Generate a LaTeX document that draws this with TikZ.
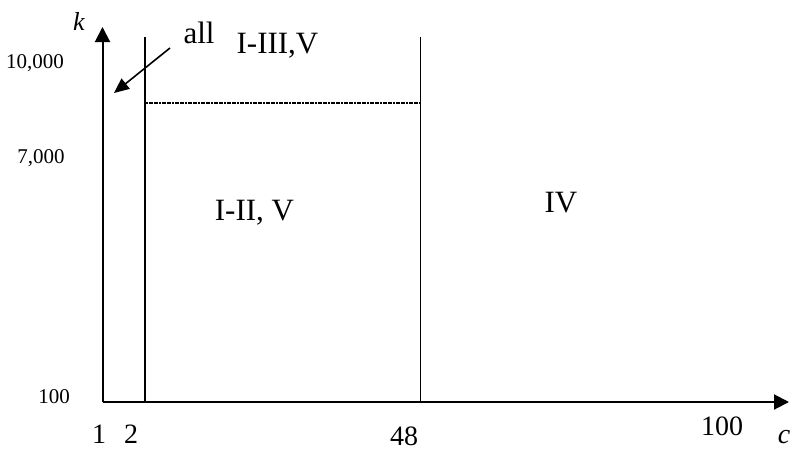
\documentclass[tikz,border=0pt]{standalone}
\usepackage{fontspec}
\setmainfont{Liberation Serif}
\usetikzlibrary{arrows.meta}
\begin{document}
\begin{tikzpicture}[x=1pt,y=-1pt,
  axis/.style={line width=2pt,-{Triangle[length=15pt,width=15pt]}},
  divline/.style={line width=1.5pt},
  dotline/.style={line width=1.1pt,dash pattern=on 2pt off 0.6pt},
  ptr/.style={line width=1.6pt,-{Triangle[length=15pt,width=13pt]}},
  small/.style={font=\fontsize{21}{21}\selectfont,anchor=base,inner sep=0pt},
  tick/.style={font=\fontsize{28}{28}\selectfont,anchor=base,inner sep=0pt},
  region/.style={font=\fontsize{31}{31}\selectfont,anchor=base,inner sep=0pt}]
\useasboundingbox (0,0) rectangle (794,450);
% axes
\coordinate (O) at (102.5,402);
\coordinate (ytip) at (102.5,27);
\coordinate (xtip) at (789,402);
\draw[axis] (O) -- (ytip);
\draw[axis] (O) -- (xtip);
% vertical dividers
\coordinate (v2top) at (145,37);
\coordinate (v2bot) at (145,402);
\coordinate (v48top) at (420.5,37);
\coordinate (v48bot) at (420.5,402);
\draw[divline] (v2top) -- (v2bot);
\draw[divline] (v48top) -- (v48bot);
% dotted line
\coordinate (dl) at (146,103);
\coordinate (dr) at (420,103);
\draw[dotline] (dl) -- (dr);
% axis labels
\node[font=\fontsize{26}{26}\selectfont\itshape,anchor=base,inner sep=0pt] (klab) at (79,30) {k};
\node[font=\fontsize{28}{28}\selectfont\itshape,anchor=base,inner sep=0pt] (clab) at (784,443) {c};
% y ticks
\node[small] (y10000) at (35,68) {10,000};
\node[small] (y7000) at (41,163) {7,000};
\node[small] (y100) at (54,403) {100};
% x ticks
\node[tick] (x1) at (99,443) {1};
\node[tick] (x2) at (131,443) {2};
\node[tick] (x48) at (404,445) {48};
\node[tick] (x100) at (722,435) {100};
% regions
\node[region] (rall) at (199,43) {all};
\node[region] (r13) at (277.5,53) {I-III,V};
\node[region] (r12) at (254.5,220) {I-II, V};
\node[region] (r4) at (561,212) {IV};
% pointer
\coordinate (pstart) at (170,48);
\coordinate (pend) at (114,93);
\draw[ptr] (pstart) -- (pend);
\end{tikzpicture}
\end{document}
